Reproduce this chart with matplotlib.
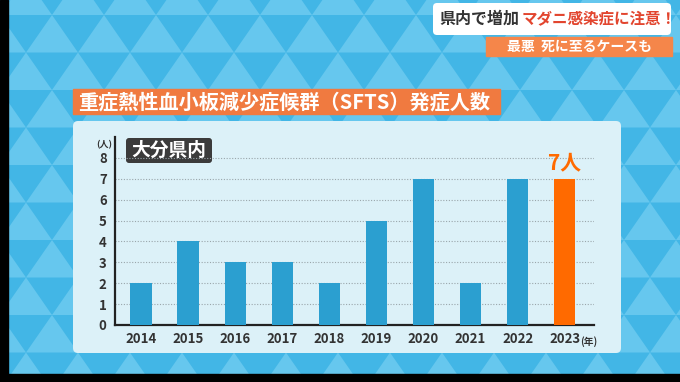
import matplotlib
matplotlib.use("Agg")
import matplotlib.pyplot as plt
from matplotlib.patches import Polygon, Rectangle, FancyBboxPatch

plt.rcParams['font.family'] = ['Noto Sans CJK JP', 'DejaVu Sans']

# data
years = ['2014', '2015', '2016', '2017', '2018', '2019', '2020', '2021', '2022', '2023']
cases = [2, 4, 3, 3, 2, 5, 7, 2, 7, 7]
yticks = [0, 1, 2, 3, 4, 5, 6, 7, 8]

title = '重症熱性血小板減少症候群（SFTS）発症人数'
region = '大分県内'
headline_a = '県内で増加'
headline_b = 'マダニ感染症に注意！'
subline = '最悪  死に至るケースも'

BLUE = '#2b9fd0'
ORANGE = '#ff6a00'
W, H = 680, 382

fig = plt.figure(figsize=(6.8, 3.82), dpi=100)

# background in pixel coords
bg = fig.add_axes([0, 0, 1, 1])
bg.set_xlim(0, W)
bg.set_ylim(H, 0)
bg.axis('off')
bg.add_patch(Rectangle((0, 0), W, H, color='#42b6e6', zorder=0))

# triangle pattern
tw, th = 52, 37.5
row = 0
y0 = 15 - th
while y0 < H:
    off = (row % 2) * tw / 2
    x = -tw + off
    while x < W + tw:
        tri = Polygon([(x, y0 + th), (x + tw / 2, y0), (x + tw, y0 + th)],
                      closed=True, color='#66c7ee', lw=0, zorder=1)
        bg.add_patch(tri)
        x += tw
    y0 += th
    row += 1

# black frame strips
bg.add_patch(Rectangle((0, 0), 8, H, color='black', zorder=2))
bg.add_patch(Rectangle((0, 374), W, 10, color='black', zorder=2))

# chart panel
bg.add_patch(FancyBboxPatch((75, 123), 544, 228, boxstyle='round,pad=2,rounding_size=5',
                            fc='#dcf1f8', ec='none', zorder=3))

# title banner
bg.add_patch(Rectangle((73, 89), 427, 25, color='#f07a40', zorder=3))
bg.text(78, 102, title, color='white', fontsize=14.5, fontweight='bold',
        va='center', ha='left', zorder=4)

# headline box top right
bg.add_patch(FancyBboxPatch((434, 4), 236, 30, boxstyle='round,pad=1,rounding_size=4',
                            fc='white', ec='none', zorder=3))
bg.text(439, 19, headline_a, color='#333333', fontsize=11.5, fontweight='bold',
        va='center', ha='left', zorder=4)
bg.text(522, 19, headline_b, color='#e2452e', fontsize=11.2, fontweight='bold',
        va='center', ha='left', zorder=4)
bg.add_patch(Rectangle((486, 37), 186, 19, color='#f5864a', zorder=3))
bg.text(507, 46.5, subline, color='white', fontsize=10, fontweight='bold',
        va='center', ha='left', zorder=4)

# region label
bg.add_patch(FancyBboxPatch((127, 139), 84, 23, boxstyle='round,pad=1,rounding_size=3',
                            fc='#3b3b3b', ec='none', zorder=6))
bg.text(169, 150.5, region, color='white', fontsize=13.5, fontweight='bold',
        va='center', ha='center', zorder=7)

# chart axes
ax = fig.add_axes([115 / W, (H - 325) / H, (594 - 115) / W, (325 - 137) / H])
ax.set_zorder(5)
ax.patch.set_alpha(0)
xs = list(range(len(years)))
colors = [BLUE] * (len(years) - 1) + [ORANGE]
ax.bar(xs, cases, width=0.45, color=colors, zorder=3)
ax.set_xlim(-0.55, 9.62)
ax.set_ylim(0, 9.0)
ax.set_yticks(yticks)
ax.set_yticklabels([str(v) for v in yticks], fontsize=9.5, fontweight='bold', color='#333333')
ax.set_xticks(xs)
ax.set_xticklabels(years, fontsize=9.5, fontweight='bold', color='#333333')
ax.tick_params(length=0, pad=5)
ax.tick_params(axis='y', pad=6)
for v in yticks[1:]:
    ax.axhline(v, color='#9aa6ab', lw=0.8, ls=(0, (1, 1.5)), zorder=1)
for s in ['top', 'right']:
    ax.spines[s].set_visible(False)
for s in ['left', 'bottom']:
    ax.spines[s].set_linewidth(1.6)
    ax.spines[s].set_color('#222222')

ax.text(9, cases[-1] + 0.25, f'{cases[-1]}人', color=ORANGE, fontsize=15,
        fontweight='bold', ha='center', va='bottom')
ax.text(-0.005, 0.985, '(人)', fontsize=6.5, fontweight='bold', color='#333333',
        ha='right', va='top', transform=ax.transAxes)
ax.text(9.33, -0.52, '(年)', fontsize=7, fontweight='bold', color='#333333',
        ha='left', va='top', clip_on=False)

fig.savefig('out.png', dpi=100)
